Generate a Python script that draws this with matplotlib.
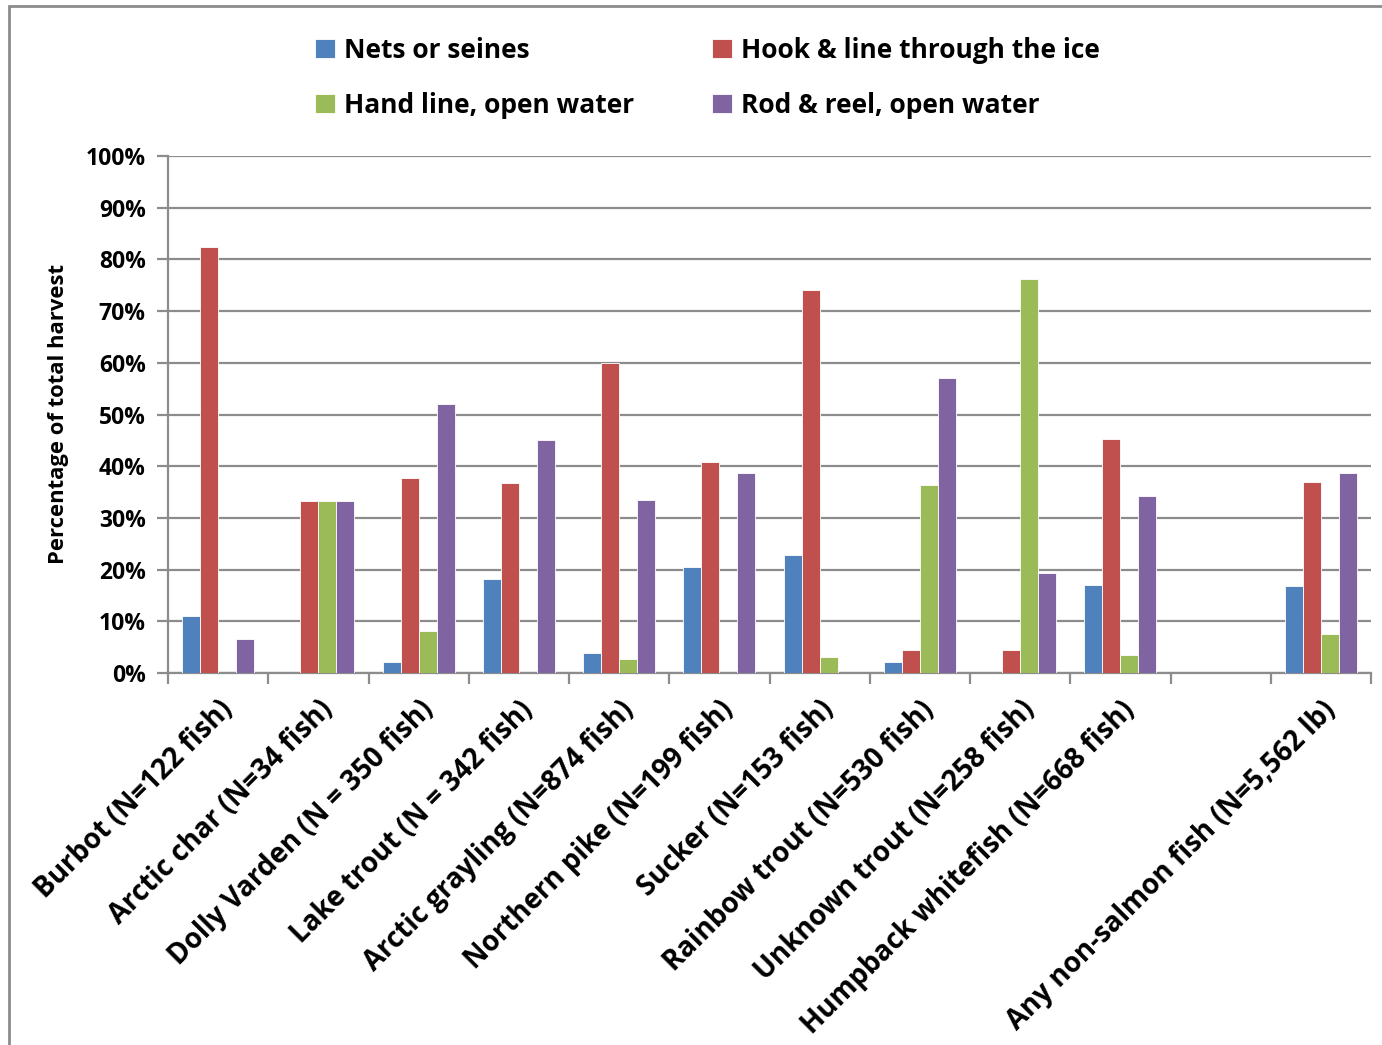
import matplotlib
matplotlib.use("Agg")
import matplotlib.pyplot as plt
import numpy as np
from matplotlib.patches import Rectangle

plt.rcParams['font.family'] = ['Open Sans', 'DejaVu Sans']
plt.rcParams['font.weight'] = 'bold'

categories = ["Burbot (N=122 fish)", "Arctic char (N=34 fish)", "Dolly Varden (N = 350 fish)",
              "Lake trout (N = 342 fish)", "Arctic grayling (N=874 fish)", "Northern pike (N=199 fish)",
              "Sucker (N=153 fish)", "Rainbow trout (N=530 fish)", "Unknown trout (N=258 fish)",
              "Humpback whitefish (N=668 fish)", "", "Any non-salmon fish (N=5,562 lb)"]
series_names = ["Nets or seines", "Hook & line through the ice", "Hand line, open water", "Rod & reel, open water"]
nets = [11.1, 0, 2.1, 18.2, 3.9, 20.5, 22.9, 2.1, 0, 17.0, 0, 16.8]
hook = [82.4, 33.3, 37.7, 36.8, 60.0, 40.8, 74.1, 4.4, 4.4, 45.3, 0, 36.9]
hand = [0, 33.3, 8.2, 0, 2.7, 0, 3.0, 36.4, 76.2, 3.4, 0, 7.6]
rod = [6.5, 33.3, 52.0, 45.1, 33.5, 38.7, 0, 57.1, 19.3, 34.2, 0, 38.7]
colors = ["#4F81BD", "#C0504D", "#9BBB59", "#8064A2"]
yticks = [0, 10, 20, 30, 40, 50, 60, 70, 80, 90, 100]

fig = plt.figure(figsize=(13.82, 10.45), dpi=100)
ax = fig.add_axes([168/1382, 1-673/1045, (1371-168)/1382, (673-156)/1045])

x = np.arange(len(categories))
width = 0.18
offsets = [-0.27, -0.09, 0.09, 0.27]
handles = []
for vals, off, c, name in zip([nets, hook, hand, rod], offsets, colors, series_names):
    b = ax.bar(x + off, vals, width, color=c, edgecolor='white', linewidth=0.6, label=name, zorder=3)
    handles.append(b)

ax.set_xlim(-0.5, len(categories) - 0.5)
ax.set_ylim(0, 100)
ax.set_yticks(yticks)
ax.set_yticklabels([f"{v}%" for v in yticks], fontsize=16.5, fontweight='bold')
ax.yaxis.grid(True, color='#8C8C8C', linewidth=1.6, zorder=0)
ax.set_axisbelow(True)

ax.set_xticks(x)
ax.set_xticklabels(categories, rotation=45, ha='right', rotation_mode='anchor',
                   fontsize=20, fontweight='bold')
ax.tick_params(axis='x', which='major', length=0, pad=16)
ax.set_xticks(np.arange(len(categories) + 1) - 0.5, minor=True)
ax.tick_params(axis='x', which='minor', length=8, width=1.6, color='#8C8C8C', direction='out')
ax.tick_params(axis='y', length=8, width=1.6, color='#8C8C8C', pad=8)

for s in ['top', 'right']:
    ax.spines[s].set_visible(False)
for s in ['left', 'bottom']:
    ax.spines[s].set_color('#8C8C8C')
    ax.spines[s].set_linewidth(1.6)

ax.set_ylabel("Percentage of total harvest", fontsize=15.8, fontweight='bold', labelpad=12)

order = [0, 2, 1, 3]
leg = fig.legend([handles[i] for i in order], [series_names[i] for i in order],
                 ncol=2, loc='upper left', bbox_to_anchor=(291/1382, 1-13/1045),
                 frameon=False, prop={'family': ['Open Sans'], 'weight': 'bold', 'size': 19},
                 handlelength=0.75, handleheight=0.75, handletextpad=0.35,
                 columnspacing=2.95, labelspacing=1.07)

fig.patches.append(Rectangle((9/1382, -0.1), 1.2, 1 - 6/1045 + 0.1, transform=fig.transFigure,
                             fill=False, edgecolor='#8C8C8C', linewidth=2))

fig.savefig("out.png", dpi=100)
